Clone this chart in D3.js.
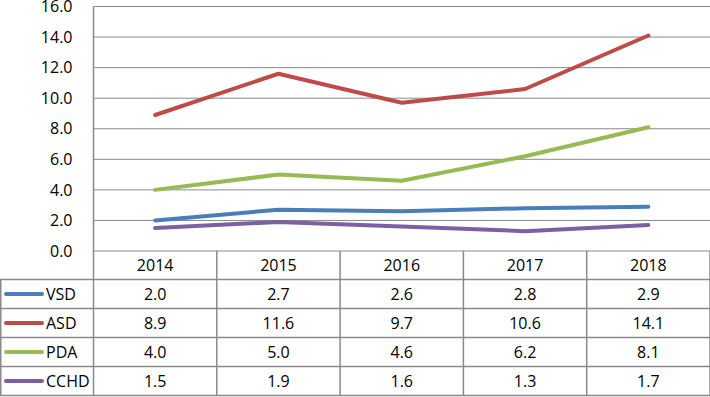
<!DOCTYPE html>
<html>
<head>
<meta charset="utf-8">
<script src="https://cdn.jsdelivr.net/npm/d3@7"></script>
<style>
  body { margin: 0; background: #fff; }
  svg { display: block; font-family: "Open Sans", sans-serif; }
</style>
</head>
<body>
<svg id="chart" width="710" height="397"></svg>
<script>
// Data
const years = ['2014', '2015', '2016', '2017', '2018'];
const seriesNames = ['VSD', 'ASD', 'PDA', 'CCHD'];
const seriesColors = ['#4A7EBB', '#BE4B48', '#98B954', '#7D60A0'];
const vsd = [2.0, 2.7, 2.6, 2.8, 2.9];
const asd = [8.9, 11.6, 9.7, 10.6, 14.1];
const pda = [4.0, 5.0, 4.6, 6.2, 8.1];
const cchd = [1.5, 1.9, 1.6, 1.3, 1.7];
const yTicks = [0, 2, 4, 6, 8, 10, 12, 14, 16];

(function() {
    const svg = d3.select('#chart');
    const width = 710;
    const plotLeft = 93.5;
    const plotTop = 6.5;
    const plotBottom = 251;
    const rowH = 29;
    const headerBottom = 279.5;
    const gridColor = '#8a8a8a';

    const allSeries = [vsd, asd, pda, cchd];

    const xScale = d3.scaleBand()
        .domain(years)
        .range([plotLeft, width])
        .paddingInner(0)
        .paddingOuter(0);

    const yScale = d3.scaleLinear()
        .domain([0, 16])
        .range([plotBottom, plotTop]);

    // Horizontal gridlines
    svg.append('g')
        .selectAll('line')
        .data(yTicks)
        .join('line')
        .attr('x1', plotLeft)
        .attr('x2', width)
        .attr('y1', d => yScale(d))
        .attr('y2', d => yScale(d))
        .attr('stroke', gridColor)
        .attr('stroke-width', 1);

    // Y axis labels
    const yAxis = svg.append('g')
        .attr('transform', `translate(${plotLeft}, 0)`)
        .call(d3.axisLeft(yScale).tickValues(yTicks).tickFormat(d3.format('.1f')).tickSize(0).tickPadding(21));
    yAxis.select('.domain').remove();
    yAxis.selectAll('text')
        .attr('font-family', '"Open Sans", sans-serif')
        .attr('font-size', '16px')
        .attr('fill', '#000');

    // Left plot border (extends through the table)
    svg.append('line')
        .attr('x1', plotLeft).attr('x2', plotLeft)
        .attr('y1', plotTop).attr('y2', 396)
        .attr('stroke', gridColor).attr('stroke-width', 1.5);

    // Table grid
    const table = svg.append('g');
    const rowTops = seriesNames.map((_, i) => headerBottom + i * rowH);
    const tableBottom = headerBottom + seriesNames.length * rowH;

    // vertical column lines
    years.forEach(y => {
        table.append('line')
            .attr('x1', xScale(y) + xScale.bandwidth())
            .attr('x2', xScale(y) + xScale.bandwidth())
            .attr('y1', plotBottom)
            .attr('y2', tableBottom)
            .attr('stroke', gridColor).attr('stroke-width', 1.5);
    });
    // left outer border for series rows
    table.append('line')
        .attr('x1', 0.75).attr('x2', 0.75)
        .attr('y1', headerBottom).attr('y2', tableBottom)
        .attr('stroke', gridColor).attr('stroke-width', 1.5);
    // horizontal row lines
    rowTops.concat([tableBottom]).forEach(yy => {
        table.append('line')
            .attr('x1', 0).attr('x2', width)
            .attr('y1', yy).attr('y2', yy)
            .attr('stroke', gridColor).attr('stroke-width', 1.5);
    });

    // Year header
    table.selectAll('.year')
        .data(years)
        .join('text')
        .attr('class', 'year')
        .attr('x', d => xScale(d) + xScale.bandwidth() / 2)
        .attr('y', (plotBottom + headerBottom) / 2)
        .attr('text-anchor', 'middle')
        .attr('dominant-baseline', 'central')
        .attr('font-size', '16px')
        .text(d => d);

    // Series rows: legend key + values
    seriesNames.forEach((name, i) => {
        const cy = rowTops[i] + rowH / 2;
        table.append('line')
            .attr('x1', 6).attr('x2', 42)
            .attr('y1', cy).attr('y2', cy)
            .attr('stroke', seriesColors[i])
            .attr('stroke-width', 4)
            .attr('stroke-linecap', 'round');
        table.append('text')
            .attr('x', 46)
            .attr('y', cy)
            .attr('dominant-baseline', 'central')
            .attr('font-size', '16px')
            .text(name);
        table.selectAll(null)
            .data(allSeries[i])
            .join('text')
            .attr('x', (d, j) => xScale(years[j]) + xScale.bandwidth() / 2)
            .attr('y', cy)
            .attr('text-anchor', 'middle')
            .attr('dominant-baseline', 'central')
            .attr('font-size', '16px')
            .text(d => d3.format('.1f')(d));
    });

    // Lines
    const line = d3.line()
        .x((d, j) => xScale(years[j]) + xScale.bandwidth() / 2)
        .y(d => yScale(d));

    svg.append('g')
        .selectAll('path')
        .data(allSeries)
        .join('path')
        .attr('d', line)
        .attr('fill', 'none')
        .attr('stroke', (d, i) => seriesColors[i])
        .attr('stroke-width', 4)
        .attr('stroke-linejoin', 'round')
        .attr('stroke-linecap', 'round');
})();
</script>
</body>
</html>
